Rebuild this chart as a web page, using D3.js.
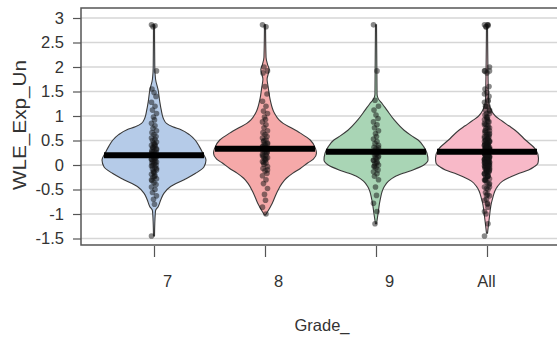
<!DOCTYPE html>
<html>
<head>
<meta charset="utf-8">
<script src="https://cdn.jsdelivr.net/npm/d3@7"></script>
<style>
  html, body { margin: 0; padding: 0; background: #fff; }
  svg { display: block; font-family: "Liberation Sans", Arial, sans-serif; }
</style>
</head>
<body>
<div id="chart"></div>
<script>
// categories and summary values
const grades = ['7', '8', '9', 'All'];
const means = [0.2, 0.33, 0.27, 0.27];
const yTicks = [-1.5, -1, -0.5, 0, 0.5, 1, 1.5, 2, 2.5, 3];
const fills = ['#b5cbe8', '#f5a9a9', '#a9d5b5', '#f8b9c8'];

// bean outlines: [value, relative density]
const dens7 = [[2.86, 0.01], [2.0, 0.015], [1.75, 0.03], [1.53, 0.08], [1.3, 0.11], [1.12, 0.14],
  [0.95, 0.18], [0.85, 0.24], [0.78, 0.36], [0.72, 0.52], [0.62, 0.68], [0.51, 0.79], [0.38, 0.87],
  [0.24, 0.94], [0.1, 1.0], [-0.04, 0.96], [-0.17, 0.8], [-0.3, 0.58], [-0.44, 0.32], [-0.58, 0.19],
  [-0.71, 0.13], [-0.85, 0.08], [-0.93, 0.03], [-1.2, 0.015], [-1.45, 0.01]];
const dens8 = [[2.86, 0.01], [2.2, 0.02], [2.05, 0.05], [1.95, 0.08], [1.85, 0.06], [1.75, 0.04],
  [1.6, 0.06], [1.33, 0.1], [1.06, 0.18], [0.92, 0.27], [0.85, 0.35], [0.75, 0.52], [0.65, 0.68],
  [0.51, 0.87], [0.34, 0.97], [0.24, 0.99], [0.12, 0.93], [0.04, 0.82], [-0.07, 0.68], [-0.17, 0.53],
  [-0.27, 0.41], [-0.37, 0.33], [-0.58, 0.22], [-0.78, 0.14], [-0.97, 0.04], [-1.02, 0.01]];
const dens9 = [[2.86, 0.01], [1.45, 0.02], [1.36, 0.04], [1.25, 0.12], [1.12, 0.21], [0.92, 0.35],
  [0.71, 0.54], [0.6, 0.68], [0.51, 0.81], [0.37, 0.92], [0.24, 0.98], [0.1, 1.0], [0, 0.92],
  [-0.1, 0.71], [-0.17, 0.52], [-0.24, 0.36], [-0.33, 0.24], [-0.44, 0.16], [-0.71, 0.08],
  [-0.99, 0.04], [-1.2, 0.01]];
const densAll = [[2.86, 0.01], [1.3, 0.03], [1.12, 0.08], [1.0, 0.16], [0.92, 0.26], [0.8, 0.42],
  [0.71, 0.54], [0.51, 0.74], [0.31, 0.94], [0.14, 0.99], [0.04, 0.98], [-0.04, 0.9], [-0.1, 0.8],
  [-0.17, 0.62], [-0.24, 0.46], [-0.33, 0.3], [-0.44, 0.2], [-0.71, 0.1], [-1.12, 0.04], [-1.39, 0.01]];

// individual scores
const pts7 = [2.86, 2.84, 2.82, 1.92, 1.55, 1.48, 1.4, 1.28, 1.2, 1.12, 1.05, 0.98, 0.92, 0.85, 0.8, 0.75,
  0.7, 0.66, 0.62, 0.58, 0.55, 0.52, 0.5, 0.47, 0.45, 0.42, 0.4, 0.38, 0.35, 0.33, 0.3, 0.28, 0.26, 0.24,
  0.22, 0.2, 0.18, 0.16, 0.14, 0.12, 0.1, 0.08, 0.06, 0.04, 0.02, 0, -0.02, -0.05, -0.08, -0.1, -0.13,
  -0.16, -0.19, -0.22, -0.25, -0.28, -0.32, -0.36, -0.4, -0.45, -0.5, -0.56, -0.63, -0.7, -0.8, -1.45,
  0.41, 0.36, 0.31, 0.27, 0.21, 0.15, 0.11, 0.05, -0.01, -0.07, -0.15, -0.24, -0.3];
const pts8 = [2.86, 2.82, 2.0, 1.92, 1.88, 1.6, 1.45, 1.3, 1.2, 1.1, 1.05, 0.98, 0.93, 0.88, 0.82, 0.76,
  0.7, 0.66, 0.62, 0.58, 0.55, 0.51, 0.48, 0.45, 0.42, 0.4, 0.37, 0.35, 0.33, 0.31, 0.29, 0.27, 0.25,
  0.22, 0.2, 0.17, 0.15, 0.12, 0.1, 0.07, 0.04, 0.01, -0.03, -0.07, -0.12, -0.17, -0.22, -0.3, -0.38,
  -0.48, -0.6, -0.72, -0.86, -1.0, 0.5, 0.43, 0.38, 0.32, 0.26, 0.19, 0.13, 0.05, -0.1];
const pts9 = [2.86, 1.92, 1.32, 1.2, 1.12, 1.02, 0.95, 0.88, 0.82, 0.76, 0.7, 0.64, 0.58, 0.53, 0.48,
  0.44, 0.4, 0.36, 0.33, 0.3, 0.27, 0.24, 0.21, 0.18, 0.15, 0.12, 0.09, 0.06, 0.03, 0, -0.03, -0.06,
  -0.1, -0.14, -0.18, -0.23, -0.3, -0.45, -0.62, -0.78, -0.95, -1.2, 0.35, 0.28, 0.22, 0.16, 0.1, 0.04, -0.02];
const ptsAll = pts7.concat(pts8, pts9);

const densities = [dens7, dens8, dens9, densAll];
const points = [pts7, pts8, pts9, ptsAll];

const width = 557, height = 346;
const margin = { top: 8, left: 81, bottom: 245 };
const jitter = [-2.5, 1, -1, 2.5, -2, 0, 2, -2.5, 1, -1.5, 2.5, -0.5, 0.5];
const labelNudge = [13, 13, 13, -1];

const svg = d3.select('#chart').append('svg')
  .attr('width', width).attr('height', height);

const x = d3.scalePoint().domain(grades).range([154, 487]);
const y = d3.scaleLinear().domain([-1.5, 3]).range([238.5, 18]);
const w = d3.scaleLinear().domain([0, 1]).range([0, 52]);

// grid lines
svg.append('g').selectAll('line').data(yTicks).join('line')
  .attr('x1', margin.left).attr('x2', width)
  .attr('y1', d => y(d)).attr('y2', d => y(d))
  .attr('stroke', '#d6d6d6').attr('stroke-width', 1.5);

// beans
const area = d3.area()
  .curve(d3.curveMonotoneY)
  .y(d => y(d[0]));

grades.forEach((g, i) => {
  const cx = x(g);
  svg.append('path')
    .datum(densities[i])
    .attr('d', area.x0(d => cx - w(d[1])).x1(d => cx + w(d[1])))
    .attr('fill', fills[i])
    .attr('stroke', '#3a3a3a')
    .attr('stroke-width', 1.1);
});

// points
grades.forEach((g, i) => {
  const cx = x(g);
  svg.append('g').selectAll('circle').data(points[i]).join('circle')
    .attr('cx', (d, j) => cx + jitter[j % jitter.length])
    .attr('cy', d => y(d))
    .attr('r', 2.8)
    .attr('fill', '#111')
    .attr('fill-opacity', 0.5);
});

// mean lines
svg.append('g').selectAll('line').data(grades).join('line')
  .attr('x1', d => x(d) - 50).attr('x2', d => x(d) + 50)
  .attr('y1', (d, i) => y(means[i])).attr('y2', (d, i) => y(means[i]))
  .attr('stroke', '#000').attr('stroke-width', 6);

// frame (open on the right)
svg.append('path')
  .attr('d', `M${width},${margin.top}H${margin.left}V${margin.bottom}H${width}`)
  .attr('fill', 'none').attr('stroke', '#555').attr('stroke-width', 1.5);

// y axis
const yAxis = svg.append('g').attr('transform', `translate(${margin.left},0)`)
  .call(d3.axisLeft(y).tickValues(yTicks).tickSize(8).tickPadding(9).tickFormat(d => String(d)));
yAxis.select('.domain').remove();
yAxis.selectAll('line').attr('stroke', '#555').attr('stroke-width', 1.2);
yAxis.selectAll('text').attr('fill', '#333').style('font-size', '16.5px');

// x axis
const xAxis = svg.append('g').attr('transform', `translate(0,${margin.bottom + 1})`)
  .call(d3.axisBottom(x).tickSize(11).tickPadding(18));
xAxis.select('.domain').remove();
xAxis.selectAll('line').attr('stroke', '#555').attr('stroke-width', 1.2);
xAxis.selectAll('text').attr('fill', '#333').style('font-size', '16.5px')
  .attr('dx', (d, i) => labelNudge[i]);

// axis titles
svg.append('text')
  .attr('x', 322).attr('y', 331)
  .attr('text-anchor', 'middle').attr('fill', '#333')
  .style('font-size', '16.5px')
  .text('Grade_');

svg.append('text')
  .attr('transform', 'translate(26,125) rotate(-90)')
  .attr('text-anchor', 'middle').attr('fill', '#333')
  .style('font-size', '18px')
  .attr('textLength', 130).attr('lengthAdjust', 'spacingAndGlyphs')
  .text('WLE_Exp_Un');
</script>
</body>
</html>
